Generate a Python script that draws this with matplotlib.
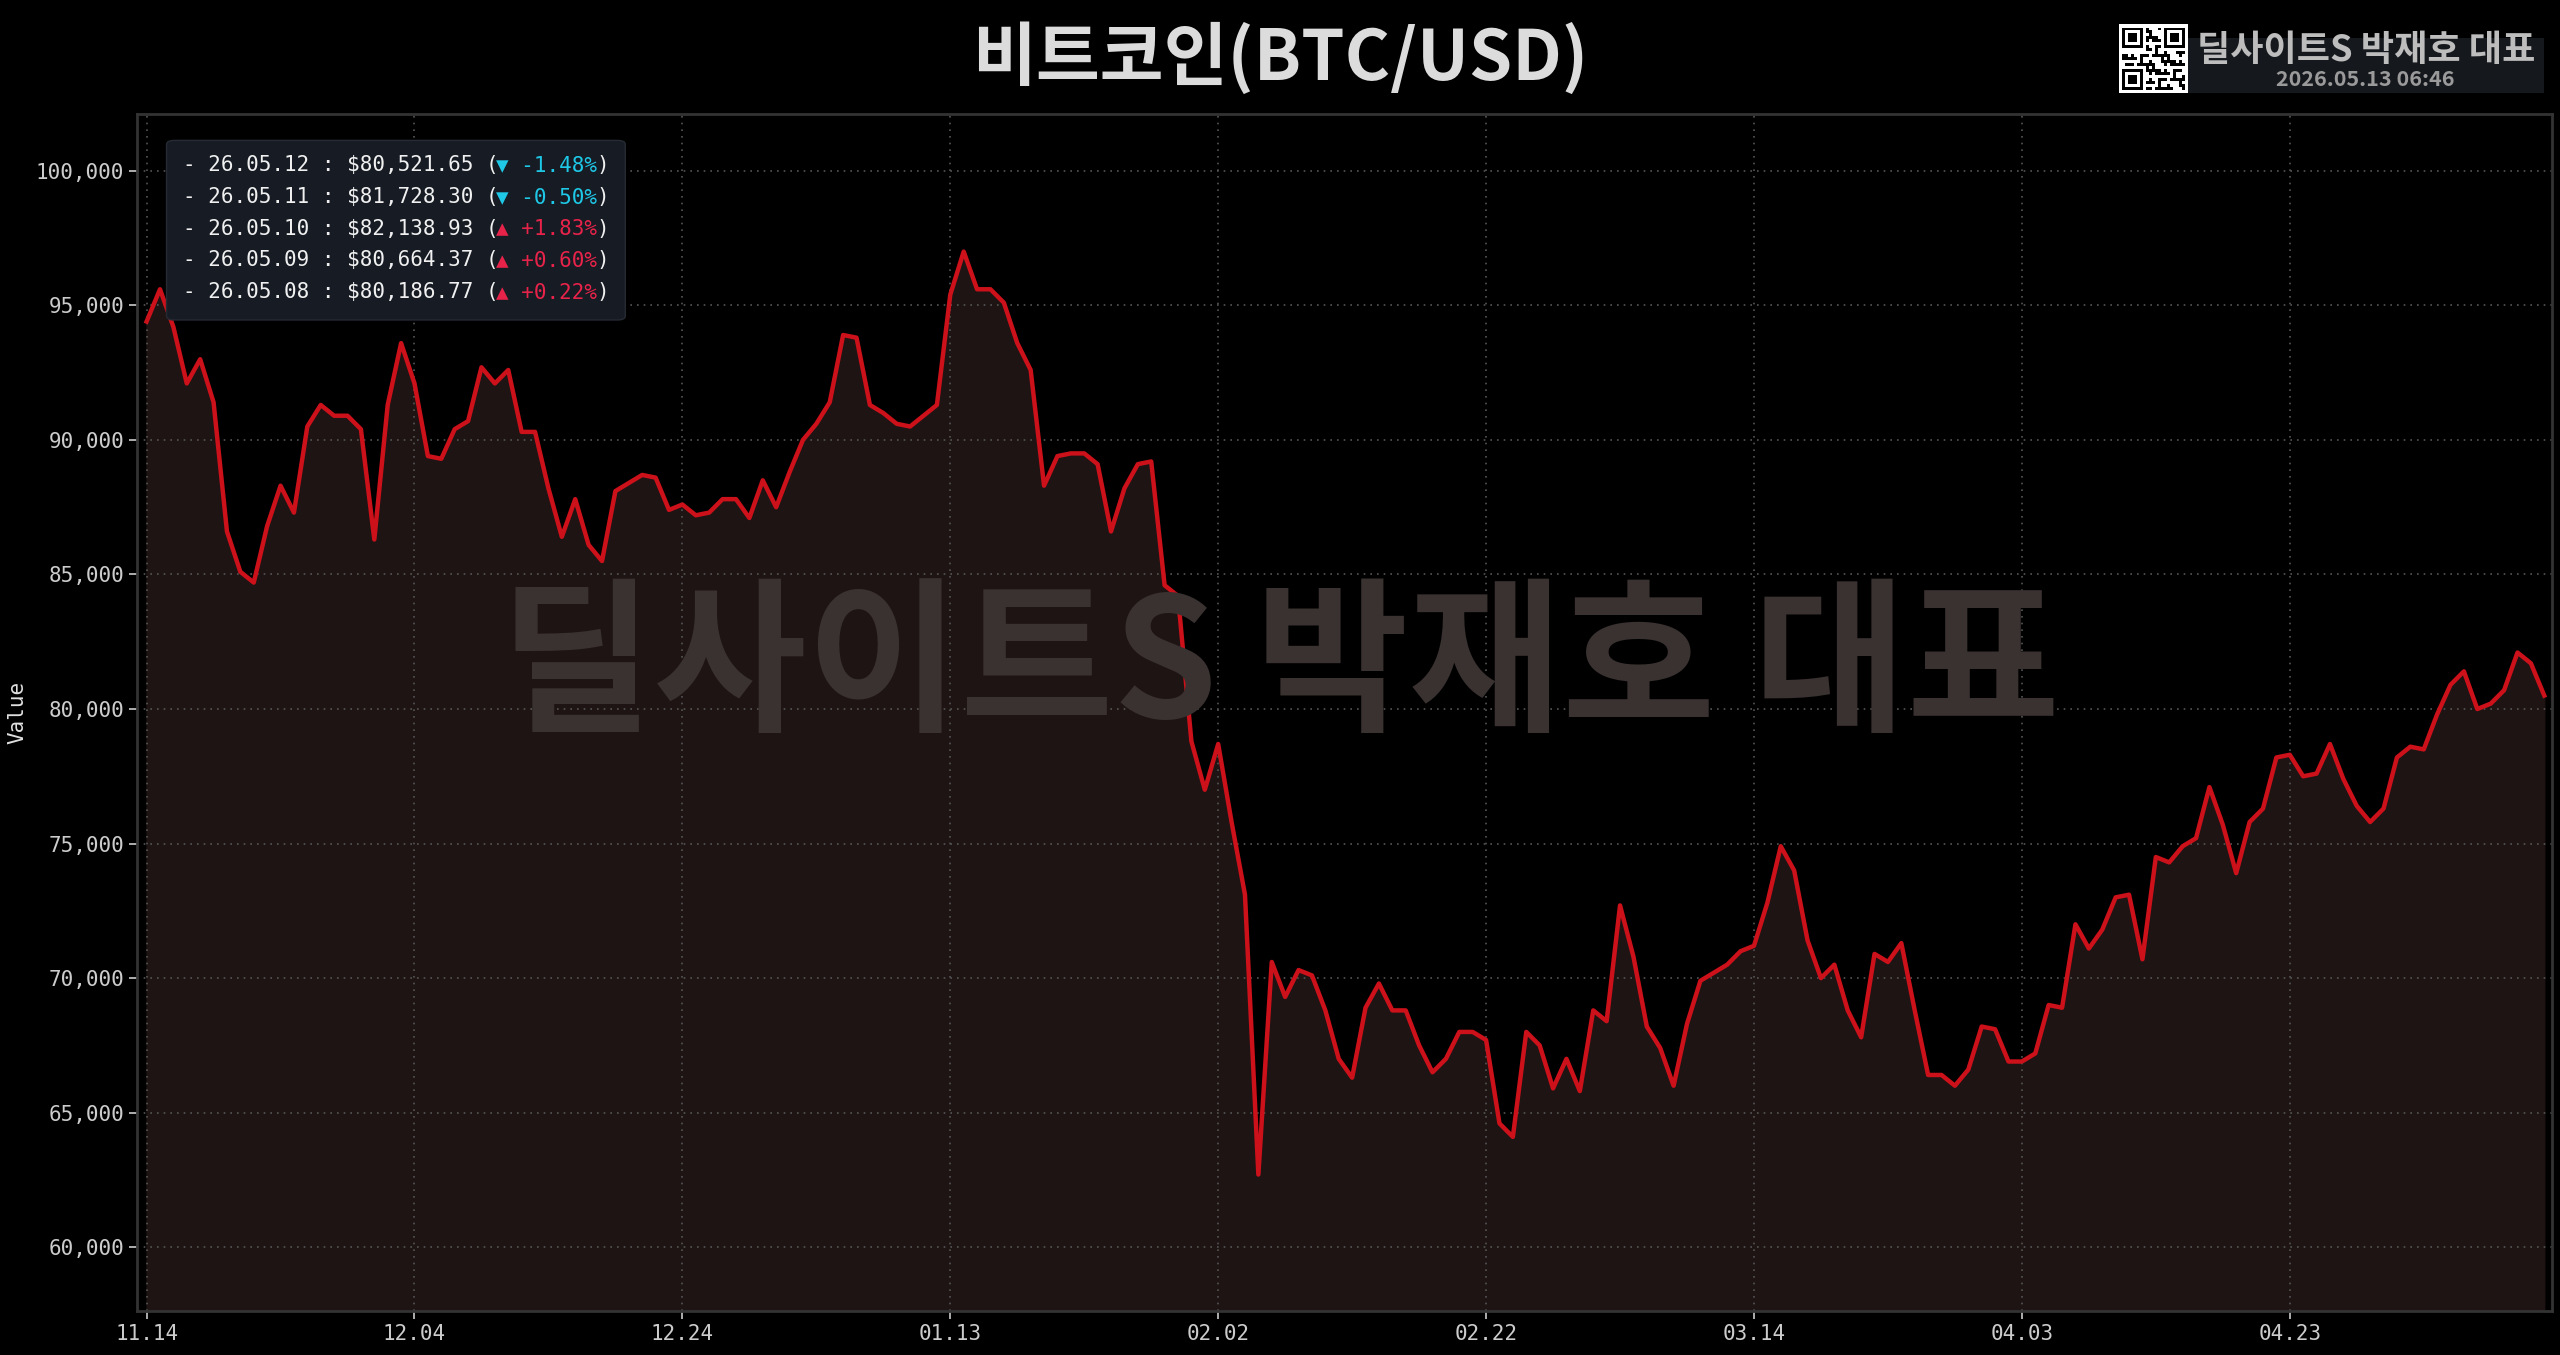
import matplotlib
matplotlib.use("Agg")
import matplotlib.pyplot as plt
import numpy as np
import datetime as dt
from matplotlib.patches import FancyBboxPatch, Rectangle

start = dt.date(2025, 11, 14)
values = [94.4,95.6,94.2,92.1,93.0,91.4,86.6,85.1,84.7,86.8,88.3,87.3,90.5,91.3,90.9,90.9,90.4,86.3,91.3,93.6,
          92.1,89.4,89.3,90.4,90.7,92.7,92.1,92.6,90.3,90.3,88.2,86.4,87.8,86.1,85.5,88.1,88.4,88.7,88.6,87.4,
          87.6,87.2,87.3,87.8,87.8,87.1,88.5,87.5,88.8,90.0,90.6,91.4,93.9,93.8,91.3,91.0,90.6,90.5,90.9,91.3,
          95.4,97.0,95.6,95.6,95.1,93.6,92.6,88.3,89.4,89.5,89.5,89.1,86.6,88.2,89.1,89.2,84.6,84.2,78.8,77.0,
          78.7,75.8,73.1,62.7,70.6,69.3,70.3,70.1,68.8,67.0,66.3,68.9,69.8,68.8,68.8,67.5,66.5,67.0,68.0,68.0,
          67.7,64.6,64.1,68.0,67.5,65.9,67.0,65.8,68.8,68.4,72.7,70.8,68.2,67.4,66.0,68.3,69.9,70.2,70.5,71.0,
          71.2,72.8,74.9,74.0,71.4,70.0,70.5,68.8,67.8,70.9,70.6,71.3,68.8,66.4,66.4,66.0,66.6,68.2,68.1,66.9,
          66.9,67.2,69.0,68.9,72.0,71.1,71.8,73.0,73.1,70.7,74.5,74.3,74.9,75.2,77.1,75.7,73.9,75.8,76.3,78.2,
          78.3,77.5,77.6,78.7,77.4,76.4,75.8,76.3,78.2,78.6,78.5,79.8,80.9,81.4,80.0,80.2,80.7,82.1,81.7,80.5]
values = np.array(values) * 1000
dates = [start + dt.timedelta(days=i) for i in range(len(values))]
tick_idx = list(range(0, len(values), 20))
tick_labels = [dates[i].strftime("%m.%d") for i in tick_idx]
yticks = [60000, 65000, 70000, 75000, 80000, 85000, 90000, 95000, 100000]
legend_rows = [("26.05.12", "$80,521.65", "▼ -1.48%", "down"),
               ("26.05.11", "$81,728.30", "▼ -0.50%", "down"),
               ("26.05.10", "$82,138.93", "▲ +1.83%", "up"),
               ("26.05.09", "$80,664.37", "▲ +0.60%", "up"),
               ("26.05.08", "$80,186.77", "▲ +0.22%", "up")]

KR = ['Noto Sans CJK KR', 'DejaVu Sans']
MONO = ['DejaVu Sans Mono', 'DejaVu Sans']
W = 2560

fig = plt.figure(figsize=(25.6, 13.55), dpi=100, facecolor='black')
ax = fig.add_axes([0.0536, 0.0325, 0.9434, 0.8835])
ax.set_facecolor('black')
x = np.arange(len(values))
ymin, ymax = 57630, 102120
ax.fill_between(x, values, ymin, color='#1e1414', zorder=1)
ax.plot(x, values, color='#cc111a', lw=3.2, zorder=3)
ax.set_xlim(-0.7, 179.6)
ax.set_ylim(ymin, ymax)
ax.set_xticks(tick_idx)
ax.set_xticklabels(tick_labels)
ax.set_yticks(yticks)
ax.set_yticklabels([f"{v:,}" for v in yticks])
for lab in ax.get_xticklabels() + ax.get_yticklabels():
    lab.set_family(MONO); lab.set_fontsize(15); lab.set_color('#e0e0e0')
ax.tick_params(colors='#cccccc', length=6, width=1.2)
ax.grid(True, color='#555555', ls=(0, (1, 3)), lw=1.2, zorder=2)
for s in ax.spines.values():
    s.set_color('#333333'); s.set_linewidth(2)
ax.set_ylabel("Value", family=MONO, fontsize=15, color='#e0e0e0', labelpad=6)

fig.text(0.5, 0.506, "딜사이트S 박재호 대표", family=KR, fontweight='bold', fontsize=120,
         color='#3a3131', ha='center', va='center', zorder=0.5)
fig.text(0.5, 0.957, "비트코인(BTC/USD)", family=KR, fontweight='bold', fontsize=50,
         color='#dcdcdc', ha='center', va='center')

bx0, by0 = 102/1568, 1-196/830
bw, bh = (383-102)/1568, (196-86)/830
fig.patches.append(FancyBboxPatch((bx0, by0), bw, bh, boxstyle="round,pad=0,rounding_size=0.003",
                                  transform=fig.transFigure, fc='#161b24', ec='#252a33', lw=1, zorder=5))
cw = 0.602 * 15 * 100 / 72 / W
x0 = 112/1568
for k, (d, p, c, kind) in enumerate(legend_rows):
    y = 1 - (101 + k*19.5)/830
    base = f"- {d} : {p} ("
    col = '#1ec8e6' if kind == 'down' else '#e8234a'
    fig.text(x0, y, base, family=MONO, fontsize=15, color='#f0f0f0', va='center', zorder=6)
    fig.text(x0 + len(base)*cw, y, c, family=MONO, fontsize=15, color=col, va='center', zorder=6)
    fig.text(x0 + (len(base)+len(c))*cw, y, ")", family=MONO, fontsize=15, color='#f0f0f0',
             va='center', zorder=6)

fig.patches.append(Rectangle((1340/1568, 1-57/830), 218/1568, 34/830, transform=fig.transFigure,
                             fc='#15181d', ec='none'))
fig.patches.append(Rectangle((1298/1568, 1-57/830), 42/1568, 42/830, transform=fig.transFigure,
                             fc='white', ec='none'))
qa = fig.add_axes([1300/1568, 1-55/830, 38/1568, 38/830], zorder=10)
qr = np.ones((21, 21))
pattern = "1011001101001110101101100101101001110010110100110101100101"
n = 0
for r in range(21):
    for c in range(21):
        qr[r, c] = int(pattern[n % len(pattern)]); n += 3
for (r, c) in [(0, 0), (0, 14), (14, 0)]:
    qr[max(r-1,0):r+8, max(c-1,0):c+8] = 1
    qr[r:r+7, c:c+7] = 0; qr[r+1:r+6, c+1:c+6] = 1; qr[r+2:r+5, c+2:c+5] = 0
qa.imshow(qr, cmap='gray', interpolation='nearest', vmin=0, vmax=1, aspect='auto')
qa.axis('off')
fig.text(1449/1568, 1-31/830, "딜사이트S 박재호 대표", family=KR, fontweight='bold', fontsize=26,
         color='#bdbdbd', ha='center', va='center')
fig.text(1449/1568, 1-49/830, "2026.05.13 06:46", family=KR, fontweight='bold', fontsize=15.5,
         color='#9a9a9a', ha='center', va='center')

fig.savefig("out.png", dpi=100, facecolor='black')
